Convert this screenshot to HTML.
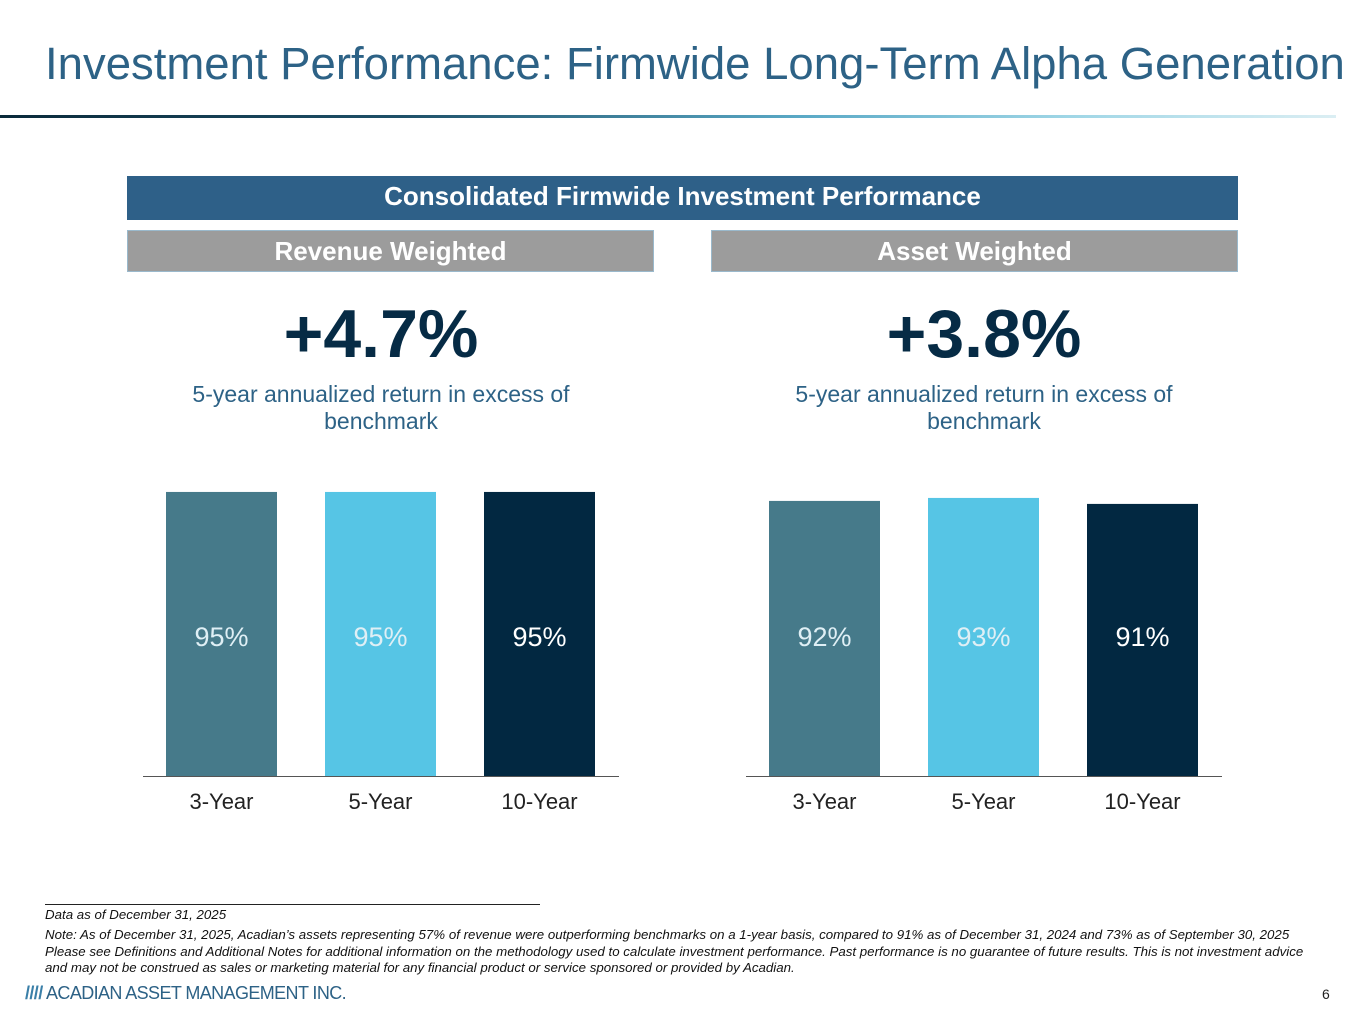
<!DOCTYPE html>
<html><head><meta charset="utf-8"><style>
body{margin:0;width:1365px;height:1024px;background:#fff;position:relative;font-family:"Liberation Sans",sans-serif;overflow:hidden}
.a{position:absolute}
.t{color:#2d6286;font-size:45.5px;left:45px;top:38px;white-space:nowrap}
.hdr{left:127px;top:176px;width:1111px;height:44px;background:#2e6088;color:#fff;font-weight:bold;font-size:26px;text-align:center;line-height:40px}
.gb{top:230px;height:42px;background:#9c9c9c;color:#fff;font-weight:bold;font-size:26px;text-align:center;line-height:40px;border:1px solid #9ab9cc;box-sizing:border-box}
.big{font-weight:bold;font-size:68px;color:#062b45;text-align:center;width:526px;top:295px}
.sub{font-size:23px;color:#2d6286;text-align:center;width:526px;top:381px;line-height:27px}
.fn{font-style:italic;font-size:13.3px;color:#111;left:45px;white-space:nowrap}
</style></head><body>
<div class="a t">Investment Performance: Firmwide Long-Term Alpha Generation</div>
<div class="a" style="left:0;top:115px;width:1336px;height:3px;background:linear-gradient(90deg,#0a2a3a 0%,#1e5068 30%,#5aa9c6 60%,#9fd6e6 80%,#dbeef3 100%)"></div>
<div class="a hdr">Consolidated Firmwide Investment Performance</div>
<div class="a gb" style="left:127px;width:527px">Revenue Weighted</div>
<div class="a gb" style="left:711px;width:527px">Asset Weighted</div>
<div class="a big" style="left:118px">+4.7%</div>
<div class="a big" style="left:721px">+3.8%</div>
<div class="a sub" style="left:118px">5-year annualized return in excess of<br>benchmark</div>
<div class="a sub" style="left:721px">5-year annualized return in excess of<br>benchmark</div>
<svg class="a" id="ch" style="left:0;top:0" width="1365" height="1024"></svg>
<div class="a" style="left:45px;top:904px;width:495px;height:1px;background:#222"></div>
<div class="a fn" style="top:907px">Data as of December 31, 2025</div>
<div class="a fn" style="top:927px;line-height:16.5px">Note: As of December 31, 2025, Acadian’s assets representing 57% of revenue were outperforming benchmarks on a 1-year basis, compared to 91% as of December 31, 2024 and 73% as of September 30, 2025<br>Please see Definitions and Additional Notes for additional information on the methodology used to calculate investment performance. Past performance is no guarantee of future results. This is not investment advice<br>and may not be construed as sales or marketing material for any financial product or service sponsored or provided by Acadian.</div>
<div class="a" style="left:25px;top:983px;font-size:18px;color:#2d6286;white-space:nowrap;letter-spacing:-0.6px"><span style="color:#3a7fa8;font-weight:bold">////</span> ACADIAN ASSET MANAGEMENT INC.</div>
<div class="a" style="left:1322px;top:986px;font-size:14px;color:#222">6</div>
<script>
const categories=["3-Year","5-Year","10-Year"];
const revenueValues=[95,95,95];
const assetValues=[92,93,91];
const colors=["#467a8a","#56c5e5","#022841"];
const svg=document.getElementById('ch');const NS="http://www.w3.org/2000/svg";
const base=776,pxPer=2.99;
function y(v){return base-v*pxPer;}
function draw(x0,vals,name){
  const ax=document.createElementNS(NS,'line');
  ax.setAttribute('x1',x0-23);ax.setAttribute('x2',x0+453);ax.setAttribute('y1',base+0.5);ax.setAttribute('y2',base+0.5);ax.setAttribute('stroke','#555');
  
  
  svg.appendChild(ax);
  vals.forEach((v,i)=>{
    const bx=x0+i*159;
    const r=document.createElementNS(NS,'rect');
    r.setAttribute('x',bx);r.setAttribute('width',111);r.setAttribute('y',y(v));r.setAttribute('height',base-y(v));r.setAttribute('fill',colors[i]);
    
    
    svg.appendChild(r);
    const t=document.createElementNS(NS,'text');
    t.setAttribute('x',bx+55.5);t.setAttribute('y',646);t.setAttribute('text-anchor','middle');t.setAttribute('font-size','27');t.setAttribute('fill',i==2?'#fff':'#dfeff5');t.setAttribute('font-family','Liberation Sans, sans-serif');
    t.textContent=v+'%';
    
    
    svg.appendChild(t);
    const c=document.createElementNS(NS,'text');
    c.setAttribute('x',bx+55.5);c.setAttribute('y',809);c.setAttribute('text-anchor','middle');c.setAttribute('font-size','22');c.setAttribute('fill','#222');c.setAttribute('font-family','Liberation Sans, sans-serif');
    c.textContent=categories[i];
    
    
    svg.appendChild(c);
  });
}
draw(166,revenueValues,'revenue');
draw(769,assetValues,'asset');
</script>
</body></html>
